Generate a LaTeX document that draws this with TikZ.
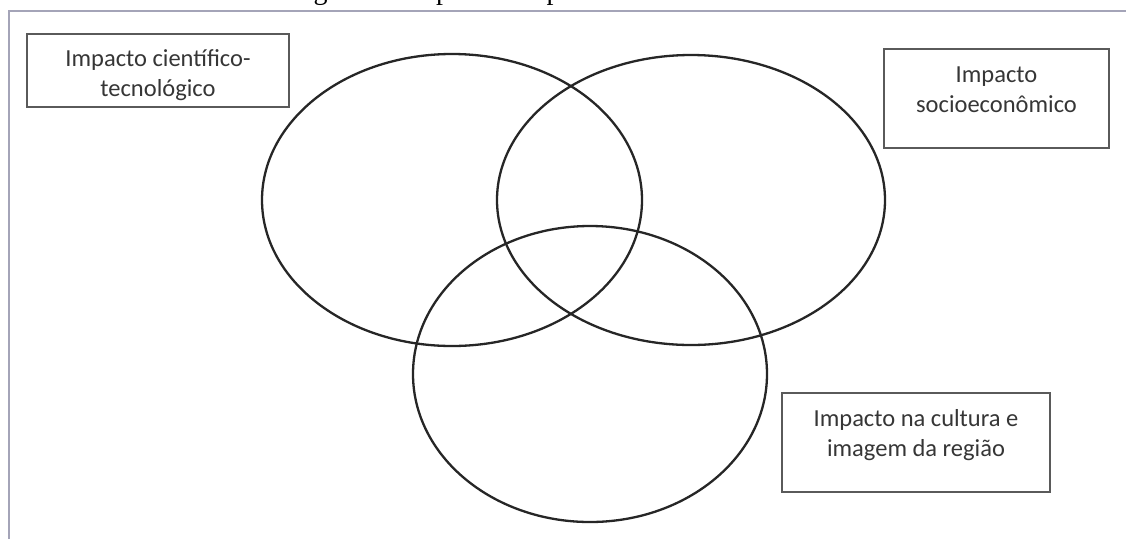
\documentclass[tikz,border=0pt]{standalone}
\usepackage{fontspec}
\setmainfont{Carlito}
\newfontfamily\capfont{Liberation Serif}
\usetikzlibrary{shapes.geometric}
\definecolor{vennc}{HTML}{262626}
\definecolor{boxc}{HTML}{5A5A5A}
\definecolor{framec}{HTML}{A4A4B8}
\definecolor{textc}{HTML}{363636}
\begin{document}
\begin{tikzpicture}[x=1pt,y=-1pt,
  venn/.style={draw=vennc, line width=2.3pt, ellipse, inner sep=0pt},
  boxs/.style={draw=boxc, line width=2.1pt, rectangle, inner sep=0pt},
  lbl/.style={text=textc, font=\fontsize{24.5}{30}\selectfont, align=center, inner sep=0pt}]
\useasboundingbox[fill=white] (0,0) rectangle (1126,539);
% frame
\coordinate (fb) at (9,539);
\coordinate (fc) at (9,11);
\coordinate (fr) at (1126,11);
\draw[framec, line width=2.6pt] (fb) -- (fc) -- (fr);
% caption (cut off at top, as in the reference)
\begin{scope}
\clip (0,0) rectangle (1126,539);
\node[anchor=base west, inner sep=0pt, font=\capfont\fontsize{28}{34}\selectfont] (cap) at (290,-1) {Figura 1 – Tipos de Impacto de uma Universidade};
\end{scope}
% ellipses
\node[venn, minimum width=380pt, minimum height=292pt] (ea) at (452,200) {};
\node[venn, minimum width=388pt, minimum height=290pt] (eb) at (691,200) {};
\node[venn, minimum width=354pt, minimum height=296pt] (ec) at (590,374) {};
% boxes
\node[boxs, minimum width=262pt, minimum height=73pt] (b1) at (158,70.5) {};
\node[boxs, minimum width=225pt, minimum height=99pt] (b2) at (996.5,98.5) {};
\node[boxs, minimum width=268pt, minimum height=99pt] (b3) at (916,442.5) {};
% labels
\node[lbl] (t1) at (158,75.5) {Impacto científico-\\tecnológico};
\node[lbl] (t2) at (996.5,89.6) {Impacto\\socioeconômico};
\node[lbl] (t3) at (916,435) {Impacto na cultura e\\imagem da região};
\end{tikzpicture}
\end{document}
